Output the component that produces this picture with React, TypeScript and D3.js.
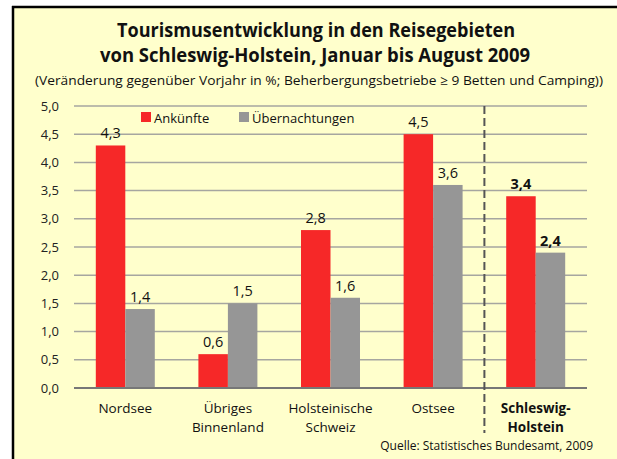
import React from "react";
import * as d3 from "d3";

const categories: string[][] = [
  ["Nordsee"],
  ["Übriges", "Binnenland"],
  ["Holsteinische", "Schweiz"],
  ["Ostsee"],
  ["Schleswig-", "Holstein"],
];
const ankuenfte = [4.3, 0.6, 2.8, 4.5, 3.4];
const uebernachtungen = [1.4, 1.5, 1.6, 3.6, 2.4];
const seriesNames = ["Ankünfte", "Übernachtungen"];
const seriesColors = ["#f62828", "#969696"];
const yTicks = [0, 0.5, 1, 1.5, 2, 2.5, 3, 3.5, 4, 4.5, 5];
const titleLines = [
  "Tourismusentwicklung in den Reisegebieten",
  "von Schleswig-Holstein, Januar bis August 2009",
];
const subtitle =
  "(Veränderung gegenüber Vorjahr in %; Beherbergungsbetriebe ≥ 9 Betten und Camping))";
const source = "Quelle: Statistisches Bundesamt, 2009";

const W = 617;
const H = 459;
const FONT = "'Open Sans', 'Noto Sans', sans-serif";
const fmt = (v: number) => v.toFixed(1).replace(".", ",");

export default function App() {
  const keys = categories.map((c) => c.join(" "));
  const x = d3
    .scaleBand<string>()
    .domain(keys)
    .range([74, 587])
    .paddingInner(0.425)
    .paddingOuter(0.2125);
  const x1 = d3
    .scaleBand<string>()
    .domain(seriesNames)
    .range([0, x.bandwidth()]);
  const y = d3.scaleLinear().domain([0, 5]).range([388, 106]);
  const data = [ankuenfte, uebernachtungen];
  const lastIdx = categories.length - 1;
  const sepX =
    ((x(keys[lastIdx - 1]) as number) + x.bandwidth() + (x(keys[lastIdx]) as number)) / 2;

  return (
    <svg
      width={W}
      height={H}
      style={{ position: "absolute", left: 0, top: 0, display: "block" }}
      fontFamily={FONT}
    >
      <rect x={0} y={0} width={W} height={H} fill="#ffffff" />
      <rect x={13} y={7} width={W - 13} height={H - 7} fill="#ffffcc" />
      <line x1={12} x2={W} y1={7} y2={7} stroke="#000" strokeWidth={2.5} />
      <line x1={13} x2={13} y1={6} y2={H} stroke="#000" strokeWidth={2.5} />

      {titleLines.map((t, i) => (
        <text
          key={t}
          x={i === 0 ? 316 : 315}
          y={i === 0 ? 37 : 62}
          textAnchor="middle"
          fontSize={19}
          fontWeight="bold"
          fill="#111"
          textLength={i === 0 ? 398 : 430}
          lengthAdjust="spacingAndGlyphs"
        >
          {t}
        </text>
      ))}
      <text
        x={319}
        y={85}
        textAnchor="middle"
        fontSize={13}
        fill="#111"
        textLength={568}
        lengthAdjust="spacingAndGlyphs"
      >
        {subtitle}
      </text>

      {yTicks.map((t) => (
        <g key={t}>
          {t > 0 && (
            <line x1={74} x2={587} y1={y(t)} y2={y(t)} stroke="#a6a6a0" strokeWidth={1.5} />
          )}
          <text x={59} y={y(t) + 4.5} textAnchor="end" fontSize={13} fill="#222">
            {fmt(t)}
          </text>
        </g>
      ))}

      {keys.map((k, ci) => (
        <g key={k}>
          {data.map((series, si) => {
            const v = series[ci];
            const bx = (x(k) as number) + (x1(seriesNames[si]) as number);
            const bold = ci === lastIdx;
            return (
              <g key={si}>
                <rect
                  x={bx}
                  y={y(v)}
                  width={x1.bandwidth()}
                  height={y(0) - y(v)}
                  fill={seriesColors[si]}
                />
                <text
                  x={bx + x1.bandwidth() / 2}
                  y={y(v) - 7}
                  textAnchor="middle"
                  fontSize={14.5}
                  fontWeight={bold ? "bold" : "normal"}
                  fill="#111"
                >
                  {fmt(v)}
                </text>
              </g>
            );
          })}
          {categories[ci].map((line, li) => (
            <text
              key={li}
              x={(x(k) as number) + x.bandwidth() / 2}
              y={413 + li * 19}
              textAnchor="middle"
              fontSize={13.5}
              fontWeight={ci === lastIdx ? "bold" : "normal"}
              fill="#111"
            >
              {line}
            </text>
          ))}
        </g>
      ))}

      <line x1={74} x2={587} y1={y(0)} y2={y(0)} stroke="#777" strokeWidth={2} />
      <line
        x1={sepX}
        x2={sepX}
        y1={y(5)}
        y2={433}
        stroke="#555"
        strokeWidth={2}
        strokeDasharray="8,4"
      />

      {seriesNames.map((n, i) => (
        <g key={n} transform={`translate(${i === 0 ? 141 : 239},112)`}>
          <rect x={0} y={0} width={10} height={10} fill={seriesColors[i]} />
          <text x={13} y={10.5} fontSize={13} fill="#111">
            {n}
          </text>
        </g>
      ))}

      <text x={593} y={450} textAnchor="end" fontSize={12} fill="#111">
        {source}
      </text>
    </svg>
  );
}
